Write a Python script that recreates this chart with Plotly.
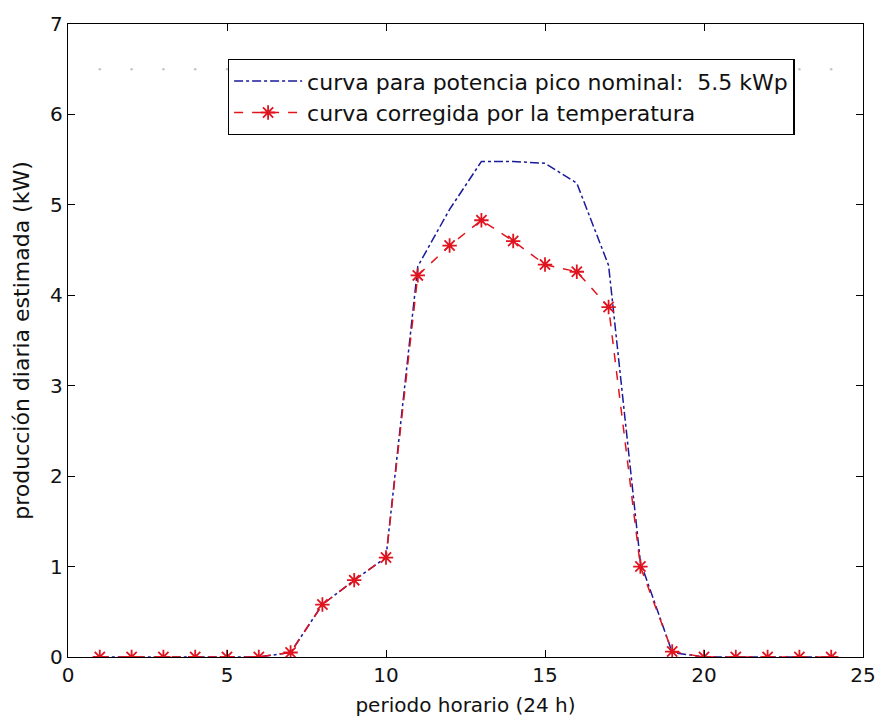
import plotly.graph_objects as go

hours = list(range(1, 25))
nominal = [0, 0, 0, 0, 0, 0, 0.05, 0.58, 0.85, 1.1, 4.32, 4.95, 5.48, 5.48, 5.46, 5.24, 4.33, 1.05, 0.05, 0, 0, 0, 0, 0]
corrected = [0, 0, 0, 0, 0, 0, 0.05, 0.58, 0.85, 1.1, 4.22, 4.55, 4.83, 4.6, 4.34, 4.26, 3.87, 1.0, 0.06, 0, 0, 0, 0, 0]
faint_level = [6.5] * 24

name_nominal = "curva para potencia pico nominal:\u00a0\u00a05.5 kWp"
name_corrected = "curva corregida por la temperatura"

FONT = "DejaVu Sans, Liberation Sans, Arial, sans-serif"

fig = go.Figure()
fig.add_trace(go.Scatter(
    x=hours, y=faint_level, mode="markers", showlegend=False, hoverinfo="skip",
    marker=dict(symbol="circle", size=2.5, color="#c4c4c4"),
))
fig.add_trace(go.Scatter(
    x=hours, y=nominal, mode="lines", name=name_nominal,
    line=dict(color="#1a1a9a", width=1.5, dash="dashdot"),
))
fig.add_trace(go.Scatter(
    x=hours, y=corrected, mode="lines+markers", name=name_corrected,
    line=dict(color="#e0141e", width=1.5, dash="dash"),
    marker=dict(symbol="asterisk-open", size=12, color="#e0141e",
                line=dict(color="#e0141e", width=1.8)),
))

axis_common = dict(
    showgrid=False, zeroline=False, showline=True, linecolor="black", linewidth=1.3,
    mirror="ticks", ticks="inside", ticklen=7, tickcolor="black", tickwidth=1.3,
    tickfont=dict(family=FONT, size=20, color="#111"),
)

fig.update_xaxes(range=[0, 25], tick0=0, dtick=5, **axis_common,
                 title=dict(text="periodo horario (24 h)", font=dict(family=FONT, size=20, color="#111"), standoff=11))
fig.update_yaxes(range=[0, 7], tick0=0, dtick=1, **axis_common,
                 title=dict(text="producción diaria estimada (kW)", font=dict(family=FONT, size=22, color="#111"), standoff=14))

fig.update_layout(
    width=888, height=724,
    margin=dict(l=68, r=15, t=22, b=65),
    paper_bgcolor="white", plot_bgcolor="white",
    font=dict(family=FONT, color="#111"),
    legend=dict(
        x=0.201, y=0.945, xanchor="left", yanchor="top",
        bgcolor="white", bordercolor="black", borderwidth=1.3,
        font=dict(family=FONT, size=22, color="#111"),
        itemwidth=68, tracegroupgap=0,
    ),
)

fig.write_html("out.html")
